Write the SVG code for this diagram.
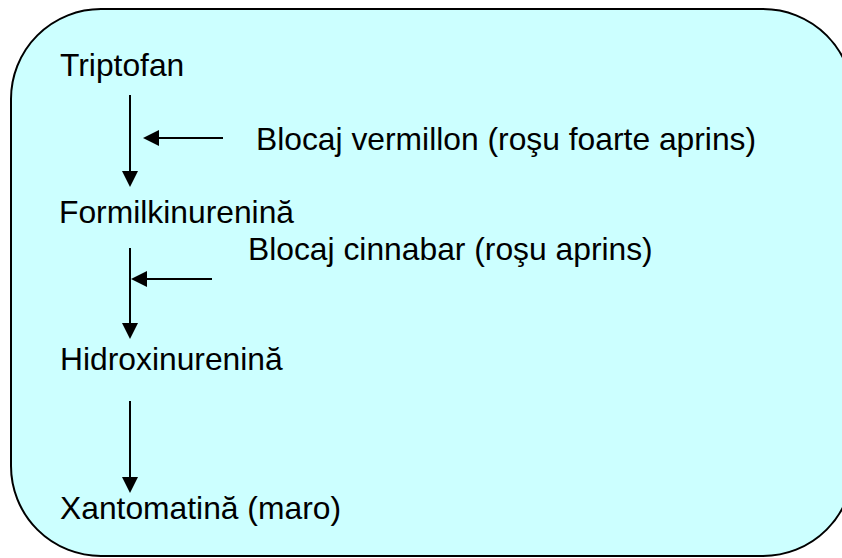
<svg xmlns="http://www.w3.org/2000/svg" width="842" height="558" viewBox="0 0 842 558">
<style>
.t{font-family:"Liberation Sans",Arial,sans-serif;font-size:31.8px;fill:#000}
.c{stroke:#000;stroke-width:2;fill:none;marker-end:url(#ah)}
</style>
<defs>
<marker id="ah" markerUnits="userSpaceOnUse" markerWidth="16" markerHeight="16" refX="11" refY="8" orient="auto">
<path d="M0,0 L16,8 L0,16 z" fill="#000"/>
</marker>
</defs>
<rect x="11" y="9" width="842" height="547" rx="90" ry="90" fill="#CCFFFF" stroke="#000" stroke-width="2"/>
<g id="connectors">
<line class="c" x1="130" y1="95" x2="130" y2="182"/>
<line class="c" x1="223" y1="138" x2="148" y2="138"/>
<line class="c" x1="130" y1="248" x2="130" y2="334"/>
<line class="c" x1="212" y1="279" x2="136" y2="279"/>
<line class="c" x1="130" y1="401" x2="130" y2="488"/>
</g>
<g id="triptofan"><text class="t" x="60" y="76">Triptofan</text></g>
<g id="vermillon"><text class="t" x="256" y="150">Blocaj vermillon (roşu foarte aprins)</text></g>
<g id="formilkinurenina"><text class="t" x="59" y="223">Formilkinurenină</text></g>
<g id="cinnabar"><text class="t" x="248" y="260">Blocaj cinnabar (roşu aprins)</text></g>
<g id="hidroxinurenina"><text class="t" x="60" y="370">Hidroxinurenină</text></g>
<g id="xantomatina"><text class="t" x="60" y="519">Xantomatină (maro)</text></g>
</svg>
